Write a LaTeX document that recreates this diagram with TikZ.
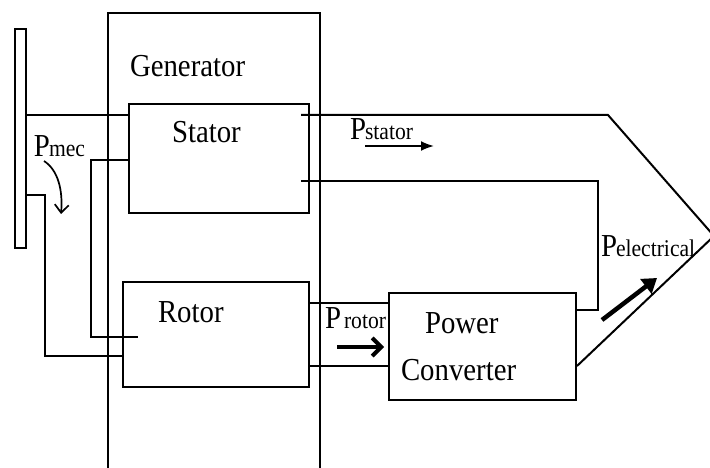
\documentclass[tikz,border=0pt]{standalone}
\usepackage{fontspec}
\setmainfont{Liberation Serif}[FakeStretch=0.9]
\usetikzlibrary{arrows.meta}
\begin{document}
\begin{tikzpicture}[x=1pt,y=-1pt, line width=2pt,
  box/.style={draw, rectangle, inner sep=0pt, anchor=north west, line width=2pt},
  lbl/.style={anchor=base west, inner sep=0pt, font=\fontsize{32}{36}\selectfont},
  wire/.style={line width=2pt}]
\useasboundingbox (0,0) rectangle (710,468);
\fill[white] (0,0) rectangle (710,468);

% generator housing (open at bottom)
\draw[wire] (108,470) -- (108,13) -- (320,13) -- (320,470);

% blocks
\node[box, minimum width=11pt, minimum height=219pt] (blade) at (14,28) {};
\node[box, minimum width=180pt, minimum height=109pt] (stator) at (128,103) {};
\node[box, minimum width=186pt, minimum height=105pt] (rotor) at (122,281) {};
\node[box, minimum width=187pt, minimum height=107pt] (pc) at (388,292) {};

% labels
\node[lbl] (tgen) at (129,77) {Generator};
\node[lbl] (tstat) at (171,143) {Stator};
\node[lbl] (trot) at (157,322) {Rotor};
\node[lbl] (tpow) at (424,333) {Power};
\node[lbl] (tconv) at (400,380) {Converter};
\node[lbl] (tpmec) at (33,157) {P\kern-1pt{\fontsize{24}{28}\selectfont mec}};
\node[lbl] (tpst) at (349,140) {P\kern-1pt{\fontsize{24}{28}\selectfont stator}};
\node[lbl] (tpel) at (600,256) {P\kern-1pt{\fontsize{24}{28}\selectfont electrical}};
\node[lbl] (tpro) at (324,328) {P\kern3pt{\fontsize{24}{28}\selectfont rotor}};

% coordinates for free ends
\coordinate (s1) at (301,115);
\coordinate (s2) at (301,181);
\coordinate (apex) at (714,236);
\coordinate (r1) at (138,337);

% connectors
\draw[wire] (blade.east |- 0,115) -- (stator.west |- 0,115);
\draw[wire] (s1) -- (608,115) -- (apex) -- (pc.east |- 0,366);
\draw[wire] (s2) -- (598,181) -- (598,310) -- (pc.east |- 0,310);
\draw[wire] (stator.west |- 0,160) -- (91,160) -- (91,337) -- (r1);
\draw[wire] (blade.east |- 0,195) -- (45,195) -- (45,356) -- (rotor.west |- 0,356);
\draw[wire] (rotor.east |- 0,303) -- (pc.west |- 0,303);
\draw[wire] (rotor.east |- 0,366) -- (pc.west |- 0,366);

% power flow arrows
\draw[line width=1.7pt, -{Straight Barb[length=8pt,width=14pt,line width=1.7pt]}] (44,161) .. controls (58,170) and (63,190) .. (61,214);
\draw[line width=2pt, -{Latex[length=13pt,width=10pt]}] (365,146) -- (434,146);
\draw[line width=4pt, -{Straight Barb[length=9pt,width=18pt,line width=4pt]}] (337,347) -- (384,347);
\draw[line width=4.5pt, -{Triangle[length=14pt,width=18pt]}] (602,320) -- (657,278);
\end{tikzpicture}
\end{document}
